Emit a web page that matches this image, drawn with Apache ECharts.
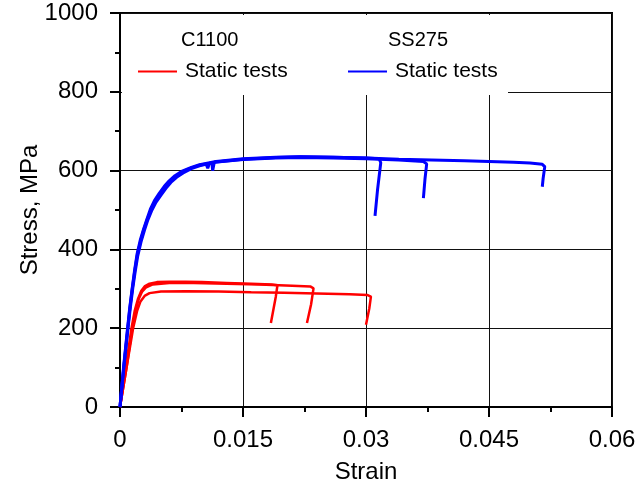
<!DOCTYPE html>
<html>
<head>
<meta charset="utf-8">
<script src="https://cdn.jsdelivr.net/npm/echarts@6/dist/echarts.min.js"></script>
<style>html,body{margin:0;padding:0;background:#fff}#c{width:637px;height:486px}</style>
</head>
<body>
<div id="c"></div>
<script>
// ---- data (strain, stress MPa) ----
var xTickLabels = ['0', '0.015', '0.03', '0.045', '0.06'];
var yTickLabels = ['0', '200', '400', '600', '800', '1000'];

var c1100_test1 = [[0,0],[0.0007,100],[0.0014,200],[0.0018,245],[0.0022,275],[0.0026,295],[0.003,306],[0.0036,313],[0.0045,317],[0.006,318],[0.008,318],[0.010,317],[0.013,315],[0.016,313],[0.0185,311],[0.0192,309],[0.0190,280],[0.0184,213]];
var c1100_test2 = [[0,0],[0.0008,100],[0.0015,200],[0.0019,245],[0.0023,275],[0.0027,293],[0.0032,304],[0.004,311],[0.006,315],[0.009,315],[0.013,313],[0.017,311],[0.021,308],[0.0232,306],[0.0236,301],[0.0233,260],[0.0228,213]];
var c1100_test3 = [[0,0],[0.0008,100],[0.0016,200],[0.0021,245],[0.0025,268],[0.003,282],[0.0036,289],[0.005,293],[0.008,294],[0.012,293],[0.016,291],[0.020,290],[0.024,288],[0.028,286],[0.0302,284],[0.0306,280],[0.0304,250],[0.0300,209]];

var ss275_test1 = [[0,0],[0.00045,100],[0.00095,200],[0.0012,250],[0.0015,300],[0.0018,345],[0.0021,385],[0.0025,420],[0.0029,450],[0.0033,475],[0.0038,500],[0.0043,522],[0.0049,540],[0.0055,557],[0.0061,572],[0.0068,585],[0.0076,597],[0.0087,607],[0.0097,614],[0.0105,617],[0.0107,606],[0.0109,618],[0.0117,622],[0.015,629],[0.019,633],[0.022,635],[0.026,634],[0.030,632],[0.0316,630],[0.0318,620],[0.0314,550],[0.0311,485]];
var ss275_test2 = [[0,0],[0.00047,100],[0.00098,200],[0.00125,250],[0.00155,300],[0.00185,343],[0.00215,382],[0.0026,422],[0.003,450],[0.0034,475],[0.0039,500],[0.0044,520],[0.005,538],[0.0056,555],[0.0062,570],[0.0069,583],[0.0077,594],[0.0087,605],[0.0097,612],[0.0112,620],[0.0113,600],[0.0115,621],[0.015,628],[0.019,632],[0.022,633],[0.026,632],[0.030,630],[0.034,627],[0.037,623],[0.0374,617],[0.0372,580],[0.0370,530]];
var ss275_test3 = [[0,0],[0.00043,100],[0.00092,200],[0.00118,250],[0.00148,300],[0.00178,347],[0.00208,388],[0.0025,426],[0.0029,453],[0.0033,478],[0.0037,502],[0.0042,524],[0.0048,543],[0.0054,560],[0.006,574],[0.0067,587],[0.0075,598],[0.0087,608],[0.0097,615],[0.0117,623],[0.015,630],[0.019,634],[0.022,635],[0.026,634],[0.030,632],[0.034,629],[0.038,627],[0.042,625],[0.045,623],[0.048,621],[0.050,619],[0.0515,616],[0.0518,610],[0.0516,580],[0.0515,559]];

var font = 'Liberation Sans, Arial, sans-serif';
var chart = echarts.init(document.getElementById('c'));

function mk(name, data, color, w) {
  return {
    name: name, type: 'line', data: data, showSymbol: false, symbol: 'none',
    lineStyle: { color: color, width: w }, itemStyle: { color: color },
    animation: false, z: 2
  };
}

var option = {
  animation: false,
  backgroundColor: '#fff',
  grid: { left: 120, right: 25, top: 13, bottom: 79, containLabel: false, outerBoundsMode: 'none',
    show: true, borderColor: '#000', borderWidth: 2, backgroundColor: 'transparent' },
  xAxis: {
    type: 'value', min: 0, max: 0.06, interval: 0.015,
    name: 'Strain', nameLocation: 'middle', nameGap: 53, nameMoveOverlap: false,
    nameTextStyle: { fontFamily: font, fontSize: 24, color: '#000' },
    axisLine: { show: true, lineStyle: { color: '#000', width: 2 } },
    axisTick: { show: true, inside: false, length: 10, lineStyle: { color: '#000', width: 2 } },
    minorTick: { show: true, splitNumber: 2, length: 5, lineStyle: { color: '#000', width: 2 } },
    axisLabel: { margin: 21, fontFamily: font, fontSize: 24, color: '#000',
      formatter: function (v) { return xTickLabels[Math.round(v / 0.015)]; } },
    splitLine: { show: true, lineStyle: { color: '#111', width: 1 } }
  },
  yAxis: {
    type: 'value', min: 0, max: 1000, interval: 200,
    name: 'Stress, MPa', nameLocation: 'middle', nameGap: 78, nameRotate: 90, nameMoveOverlap: false,
    nameTextStyle: { fontFamily: font, fontSize: 24, color: '#000' },
    axisLine: { show: true, lineStyle: { color: '#000', width: 2 } },
    axisTick: { show: true, inside: false, length: 10, lineStyle: { color: '#000', width: 2 } },
    minorTick: { show: true, splitNumber: 2, length: 5, lineStyle: { color: '#000', width: 2 } },
    axisLabel: { margin: 22, fontFamily: font, fontSize: 24, color: '#000',
      formatter: function (v) { return yTickLabels[Math.round(v / 200)]; } },
    splitLine: { show: true, lineStyle: { color: '#111', width: 1 } }
  },
  legend: [
    { data: ['C1100'], left: 133, top: 56, icon: 'rect', itemWidth: 39, itemHeight: 2,
      formatter: function () { return 'Static tests'; },
      textStyle: { fontFamily: font, fontSize: 21, color: '#000', padding: [0, 0, 0, 3] } },
    { data: ['SS275'], left: 343, top: 56, icon: 'rect', itemWidth: 39, itemHeight: 2,
      formatter: function () { return 'Static tests'; },
      textStyle: { fontFamily: font, fontSize: 21, color: '#000', padding: [0, 0, 0, 3] } }
  ],
  graphic: [
    { type: 'rect', left: 122, top: 15, z: 3, silent: true,
      shape: { width: 386, height: 80 }, style: { fill: '#fff' } },
    { type: 'text', left: 181, top: 30, z: 10,
      style: { text: 'C1100', fontFamily: font, fontSize: 20, fill: '#000' } },
    { type: 'text', left: 388, top: 30, z: 10,
      style: { text: 'SS275', fontFamily: font, fontSize: 20, fill: '#000' } }
  ],
  series: [
    mk('C1100', c1100_test1, '#ff0000', 2.5),
    mk('C1100', c1100_test2, '#ff0000', 2.5),
    mk('C1100', c1100_test3, '#ff0000', 2.5),
    mk('SS275', ss275_test1, '#0000ff', 3),
    mk('SS275', ss275_test2, '#0000ff', 3),
    mk('SS275', ss275_test3, '#0000ff', 3)
  ]
};
chart.setOption(option);
</script>
</body>
</html>
